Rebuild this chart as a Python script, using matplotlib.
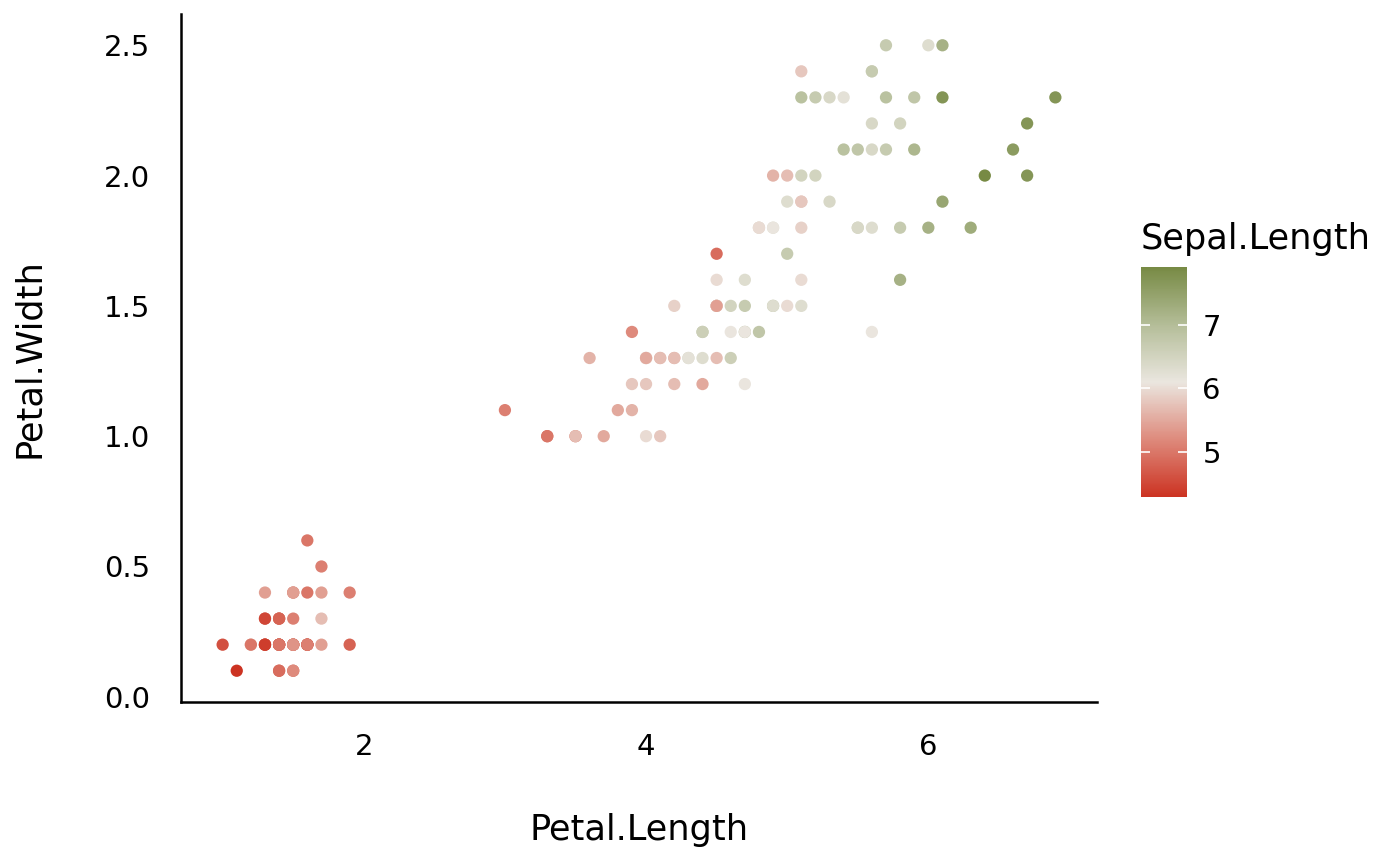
import numpy as np
import matplotlib
matplotlib.use('Agg')
import matplotlib.pyplot as plt
from matplotlib.colors import LinearSegmentedColormap, Normalize

# iris data (R datasets::iris)
sepal_length = [5.1, 4.9, 4.7, 4.6, 5.0, 5.4, 4.6, 5.0, 4.4, 4.9, 5.4, 4.8, 4.8, 4.3, 5.8, 5.7, 5.4, 5.1, 5.7, 5.1,
                5.4, 5.1, 4.6, 5.1, 4.8, 5.0, 5.0, 5.2, 5.2, 4.7, 4.8, 5.4, 5.2, 5.5, 4.9, 5.0, 5.5, 4.9, 4.4, 5.1,
                5.0, 4.5, 4.4, 5.0, 5.1, 4.8, 5.1, 4.6, 5.3, 5.0,
                7.0, 6.4, 6.9, 5.5, 6.5, 5.7, 6.3, 4.9, 6.6, 5.2, 5.0, 5.9, 6.0, 6.1, 5.6, 6.7, 5.6, 5.8, 6.2, 5.6,
                5.9, 6.1, 6.3, 6.1, 6.4, 6.6, 6.8, 6.7, 6.0, 5.7, 5.5, 5.5, 5.8, 6.0, 5.4, 6.0, 6.7, 6.3, 5.6, 5.5,
                5.5, 6.1, 5.8, 5.0, 5.6, 5.7, 5.7, 6.2, 5.1, 5.7,
                6.3, 5.8, 7.1, 6.3, 6.5, 7.6, 4.9, 7.3, 6.7, 7.2, 6.5, 6.4, 6.8, 5.7, 5.8, 6.4, 6.5, 7.7, 7.7, 6.0,
                6.9, 5.6, 7.7, 6.3, 6.7, 7.2, 6.2, 6.1, 6.4, 7.2, 7.4, 7.9, 6.4, 6.3, 6.1, 7.7, 6.3, 6.4, 6.0, 6.9,
                6.7, 6.9, 5.8, 6.8, 6.7, 6.7, 6.3, 6.5, 6.2, 5.9]
petal_length = [1.4, 1.4, 1.3, 1.5, 1.4, 1.7, 1.4, 1.5, 1.4, 1.5, 1.5, 1.6, 1.4, 1.1, 1.2, 1.5, 1.3, 1.4, 1.7, 1.5,
                1.7, 1.5, 1.0, 1.7, 1.9, 1.6, 1.6, 1.5, 1.4, 1.6, 1.6, 1.5, 1.5, 1.4, 1.5, 1.2, 1.3, 1.4, 1.3, 1.5,
                1.3, 1.3, 1.3, 1.6, 1.9, 1.4, 1.6, 1.4, 1.5, 1.4,
                4.7, 4.5, 4.9, 4.0, 4.6, 4.5, 4.7, 3.3, 4.6, 3.9, 3.5, 4.2, 4.0, 4.7, 3.6, 4.4, 4.5, 4.1, 4.5, 3.9,
                4.8, 4.0, 4.9, 4.7, 4.3, 4.4, 4.8, 5.0, 4.5, 3.5, 3.8, 3.7, 3.9, 5.1, 4.5, 4.5, 4.7, 4.4, 4.1, 4.0,
                4.4, 4.6, 4.0, 3.3, 4.2, 4.2, 4.2, 4.3, 3.0, 4.1,
                6.0, 5.1, 5.9, 5.6, 5.8, 6.6, 4.5, 6.3, 5.8, 6.1, 5.1, 5.3, 5.5, 5.0, 5.1, 5.3, 5.5, 6.7, 6.9, 5.0,
                5.7, 4.9, 6.7, 4.9, 5.7, 6.0, 4.8, 4.9, 5.6, 5.8, 6.1, 6.4, 5.6, 5.1, 5.6, 6.1, 5.6, 5.5, 4.8, 5.4,
                5.6, 5.1, 5.1, 5.9, 5.7, 5.2, 5.0, 5.2, 5.4, 5.1]
petal_width = [0.2, 0.2, 0.2, 0.2, 0.2, 0.4, 0.3, 0.2, 0.2, 0.1, 0.2, 0.2, 0.1, 0.1, 0.2, 0.4, 0.4, 0.3, 0.3, 0.3,
               0.2, 0.4, 0.2, 0.5, 0.2, 0.2, 0.4, 0.2, 0.2, 0.2, 0.2, 0.4, 0.1, 0.2, 0.2, 0.2, 0.2, 0.1, 0.2, 0.2,
               0.3, 0.3, 0.2, 0.6, 0.4, 0.3, 0.2, 0.2, 0.2, 0.2,
               1.4, 1.5, 1.5, 1.3, 1.5, 1.3, 1.6, 1.0, 1.3, 1.4, 1.0, 1.5, 1.0, 1.4, 1.3, 1.4, 1.5, 1.0, 1.5, 1.1,
               1.8, 1.3, 1.5, 1.2, 1.3, 1.4, 1.4, 1.7, 1.5, 1.0, 1.1, 1.0, 1.2, 1.6, 1.5, 1.6, 1.5, 1.3, 1.3, 1.3,
               1.2, 1.4, 1.2, 1.0, 1.3, 1.2, 1.3, 1.3, 1.1, 1.3,
               2.5, 1.9, 2.1, 1.8, 2.2, 2.1, 1.7, 1.8, 1.8, 2.5, 2.0, 1.9, 2.1, 2.0, 2.4, 2.3, 1.8, 2.2, 2.3, 1.5,
               2.3, 2.0, 2.0, 1.8, 2.1, 1.8, 1.8, 1.8, 2.1, 1.6, 1.9, 2.0, 2.2, 1.5, 1.4, 2.3, 2.4, 1.8, 1.8, 2.1,
               2.4, 2.3, 1.9, 2.3, 2.5, 2.3, 1.9, 2.0, 2.3, 1.8]

x_ticks = [2, 4, 6]
y_ticks = [0.0, 0.5, 1.0, 1.5, 2.0, 2.5]
cbar_ticks = [5, 6, 7]

sl = np.array(sepal_length)
pl = np.array(petal_length)
pw = np.array(petal_width)

lo, hi = sl.min(), sl.max()
mid = (lo + hi) / 2
cmap = LinearSegmentedColormap.from_list(
    'div', [(0.0, '#CC3322'), (0.25, '#DE8A7C'), ((mid - lo) / (hi - lo), '#EAE6DF'),
            (0.75, '#B4BD98'), (1.0, '#778A44')])
norm = Normalize(lo, hi)

plt.rcParams['font.family'] = 'DejaVu Sans'

fig = plt.figure(figsize=(14, 8.66), dpi=100)
ax = fig.add_axes([181/1400, 164/866, (1097-181)/1400, (702-14)/866])

ax.scatter(pl, pw, c=sl, cmap=cmap, norm=norm, s=78, linewidths=0, zorder=3)

xr = pl.max() - pl.min()
yr = pw.max() - pw.min()
ax.set_xlim(pl.min() - 0.05*xr, pl.max() + 0.05*xr)
ax.set_ylim(pw.min() - 0.05*yr, pw.max() + 0.05*yr)
ax.set_xticks(x_ticks)
ax.set_yticks(y_ticks)
ax.set_yticklabels(['%.1f' % v for v in y_ticks])
ax.tick_params(length=0, labelsize=21, pad=22, colors='black')
for s in ['top', 'right']:
    ax.spines[s].set_visible(False)
for s in ['left', 'bottom']:
    ax.spines[s].set_linewidth(1.8)

ax.set_xlabel('Petal.Length', fontsize=25.3, labelpad=38)
ax.set_ylabel('Petal.Width', fontsize=25.3, labelpad=42)

cax = fig.add_axes([1141/1400, (866-497)/866, 46/1400, 230/866])
sm = plt.cm.ScalarMappable(norm=norm, cmap=cmap)
cb = fig.colorbar(sm, cax=cax, ticks=cbar_ticks)
cb.outline.set_visible(False)
cax.tick_params(direction='in', color='white', length=6.5, width=1.2,
                left=True, right=True, labelsize=21, pad=11)
fig.text(1141/1400, (866-239)/866, 'Sepal.Length', fontsize=25.3, va='center', ha='left')

fig.savefig('out.png', dpi=100)
